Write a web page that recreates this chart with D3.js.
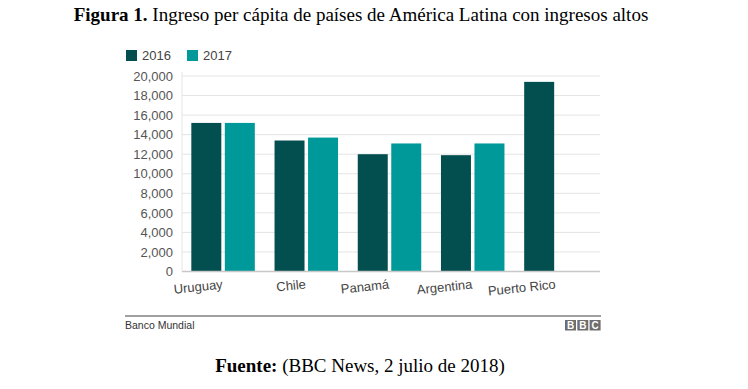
<!DOCTYPE html>
<html>
<head>
<meta charset="utf-8">
<script src="https://cdn.jsdelivr.net/npm/d3@7"></script>
<style>
  html, body { margin: 0; padding: 0; background: #fff; }
  svg { display: block; }
</style>
</head>
<body>
<div id="chart"></div>
<script>
// data
const countries = ['Uruguay', 'Chile', 'Panamá', 'Argentina', 'Puerto Rico'];
const years = ['2016', '2017'];
const values2016 = [15200, 13400, 12000, 11900, 19400];
const values2017 = [15200, 13700, 13100, 13100, null];
const yTicks = [0, 2000, 4000, 6000, 8000, 10000, 12000, 14000, 16000, 18000, 20000];

const width = 748, height = 389;
const colors = { '2016': '#034f4f', '2017': '#00999a' };
const sans = '"Liberation Sans", Arial, sans-serif';
const serif = '"Liberation Serif", "Times New Roman", serif';

const plot = { left: 182, right: 600, top: 76, bottom: 271.5 };

const svg = d3.select('#chart')
    .append('svg')
    .attr('width', width)
    .attr('height', height);

svg.append('rect').attr('width', width).attr('height', height).attr('fill', '#fff');

// title
const title = svg.append('text')
    .attr('x', 361).attr('y', 21)
    .attr('text-anchor', 'middle')
    .attr('font-family', serif)
    .attr('font-size', 19)
    .attr('fill', '#000');
title.append('tspan').attr('font-weight', 'bold').text('Figura 1.');
title.append('tspan').text(' Ingreso per cápita de países de América Latina con ingresos altos');

// scales
const y = d3.scaleLinear().domain([0, 20000]).range([plot.bottom, plot.top]);
const x0 = d3.scaleBand().domain(countries).range([plot.left, 597])
    .paddingInner(0.237).paddingOuter(0.112);
const x1 = d3.scaleBand().domain(years).range([0, x0.bandwidth()]).paddingInner(0.105);

// gridlines
svg.append('g')
    .selectAll('line')
    .data(yTicks.filter(d => d > 0))
    .join('line')
    .attr('x1', plot.left).attr('x2', plot.right)
    .attr('y1', d => y(d)).attr('y2', d => y(d))
    .attr('stroke', '#e4e4e4').attr('stroke-width', 1);

// vertical axis line
svg.append('line')
    .attr('x1', plot.left).attr('x2', plot.left)
    .attr('y1', plot.top - 4).attr('y2', plot.bottom)
    .attr('stroke', '#e4e4e4');

// y axis labels
const yAxis = svg.append('g')
    .attr('transform', `translate(${plot.left},0)`)
    .call(d3.axisLeft(y).tickValues(yTicks).tickFormat(d3.format(',')).tickSize(0).tickPadding(9));
yAxis.select('.domain').remove();
yAxis.selectAll('text')
    .attr('font-family', sans)
    .attr('font-size', 13)
    .attr('fill', '#555');

// bars
const rows = countries.map((c, i) => ({ country: c, values: [
  { year: '2016', value: values2016[i] },
  { year: '2017', value: values2017[i] }
].filter(d => d.value != null) }));

svg.append('g')
    .selectAll('g')
    .data(rows)
    .join('g')
    .attr('transform', d => `translate(${x0(d.country)},0)`)
    .selectAll('rect')
    .data(d => d.values)
    .join('rect')
    .attr('x', d => x1(d.year))
    .attr('y', d => y(d.value))
    .attr('width', x1.bandwidth())
    .attr('height', d => y(0) - y(d.value))
    .attr('fill', d => colors[d.year]);

// baseline
svg.append('line')
    .attr('x1', plot.left).attr('x2', plot.right)
    .attr('y1', plot.bottom).attr('y2', plot.bottom)
    .attr('stroke', '#c8c8c8').attr('stroke-width', 1.5);

// x labels, slightly tilted
svg.append('g')
    .selectAll('text')
    .data(countries)
    .join('text')
    .attr('transform', d => `translate(${x0(d) + x0.bandwidth() / 2},${plot.bottom + 17}) rotate(-6)`)
    .attr('text-anchor', 'end')
    .attr('font-family', sans)
    .attr('font-size', 13)
    .attr('fill', '#444')
    .text(d => d);

// legend
const legend = svg.append('g')
    .selectAll('g')
    .data(years)
    .join('g')
    .attr('transform', (d, i) => `translate(${126 + i * 61},50)`);
legend.append('rect')
    .attr('width', 11).attr('height', 11)
    .attr('fill', d => colors[d]);
legend.append('text')
    .attr('x', 16).attr('y', 10)
    .attr('font-family', sans)
    .attr('font-size', 13)
    .attr('fill', '#444')
    .text(d => d);

// footer
svg.append('line')
    .attr('x1', 125).attr('x2', 601)
    .attr('y1', 316).attr('y2', 316)
    .attr('stroke', '#808080').attr('stroke-width', 1.5);
svg.append('text')
    .attr('x', 125).attr('y', 329)
    .attr('font-family', sans)
    .attr('font-size', 10.5)
    .attr('fill', '#333')
    .text('Banco Mundial');

const bbc = svg.append('g')
    .selectAll('g')
    .data(['B', 'B', 'C'])
    .join('g')
    .attr('transform', (d, i) => `translate(${565 + i * 12.3},320)`);
bbc.append('rect')
    .attr('width', 11).attr('height', 10.5)
    .attr('fill', '#6e6e6e');
bbc.append('text')
    .attr('x', 5.5).attr('y', 9)
    .attr('text-anchor', 'middle')
    .attr('font-family', sans)
    .attr('font-weight', 'bold')
    .attr('font-size', 10)
    .attr('fill', '#fff')
    .text(d => d);

// source line
const src = svg.append('text')
    .attr('x', 360).attr('y', 372)
    .attr('text-anchor', 'middle')
    .attr('font-family', serif)
    .attr('font-size', 19)
    .attr('fill', '#000');
src.append('tspan').attr('font-weight', 'bold').text('Fuente:');
src.append('tspan').text(' (BBC News, 2 julio de 2018)');
</script>
</body>
</html>
